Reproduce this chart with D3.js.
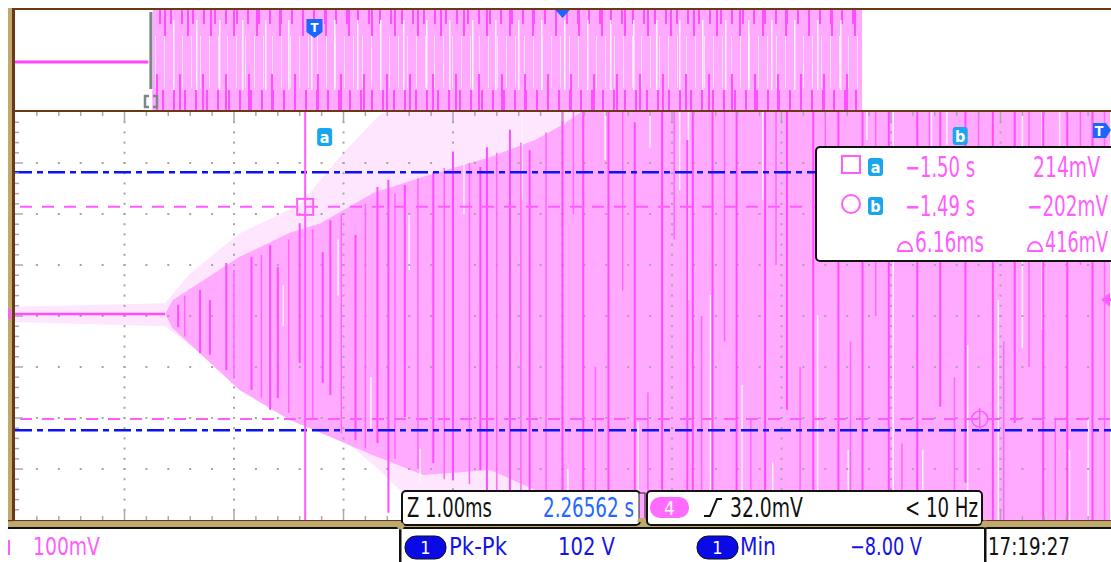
<!DOCTYPE html>
<html>
<head>
<meta charset="utf-8">
<script src="https://cdn.jsdelivr.net/npm/d3@7"></script>
<style>
  html, body { margin: 0; padding: 0; background: #fff; }
  svg { display: block; }
  text { font-family: "DejaVu Sans Condensed", "Liberation Sans Narrow", "DejaVu Sans", sans-serif; }
</style>
</head>
<body>
<svg id="scope" width="1111" height="562"></svg>
<script>
// horizontal: 1.00 ms/div (0..10 ms), vertical: 100 mV/div (-400..400 mV)

// outer (persistence) envelope of channel 4
const lightT  = [0, 1.37, 1.6, 2.06, 2.6, 3.0, 3.33, 3.6, 3.97, 10];
const lightHi = [18, 25, 84, 163, 218, 320, 394, 420, 420, 420];
const lightLo = [-12, -20, -57, -106, -184, -243, -302, -360, -420, -420];

// inner envelope
const midT  = [1.37, 1.44, 2.05, 2.51, 2.79, 3.27, 3.73, 4.34, 4.75, 5.0, 5.3, 10];
const midHi = [4, 31, 116, 163, 182, 241, 273, 312, 345, 375, 420, 420];
const midLo = [4, -24, -145, -204, -229, -273, -312, -302, -341, -361, -420, -420];

// flat trace before the burst
const flatT = [0, 1.37];
const flatV = [4, 4];

// bright vertical strokes [time ms, top mV, bottom mV]
const spikes = [
  [1.49, 22, -22], [1.69, 51, -73], [1.78, 31, -76], [1.93, 104, -106],
  [2.16, 116, -145], [2.33, 139, -184], [2.40, 96, -161], [2.60, 182, -92],
  [2.81, 125, -131], [2.88, 188, -155], [3.11, 159, -243], [3.31, 253, -249],
  [3.41, 267, -386], [3.56, 257, -198], [3.82, 282, -288], [4.00, 322, -322],
  [4.25, 292, -302], [4.31, 331, -420], [4.52, 365, -420], [4.70, 325, -420],
  [5.00, 420, -420], [5.19, 420, -420], [5.42, 420, -420], [5.66, 380, -420],
  [5.91, 420, -420], [6.14, 345, -420], [6.19, 420, -420], [6.37, 420, -420],
  [6.59, 420, -420], [6.85, 420, -420], [7.05, 420, -184], [7.29, 420, -420],
  [7.52, 420, -420], [7.74, 420, -420], [7.98, 420, -420], [8.24, 420, -420],
  [8.45, 420, -178], [8.68, 420, -327], [8.93, 420, -420], [9.13, 420, -210],
  [9.39, 420, -420], [9.61, 420, -420], [9.84, 420, -420]
];

// shorter strokes between the main ones [time ms, top mV, bottom mV]
const partials = [
  [1.55, 40, -40], [2.00, 90, -120], [2.25, 120, -160], [2.50, 150, -190],
  [2.72, 170, -200], [2.98, 200, -230], [3.20, 220, -260], [3.47, 240, -280],
  [3.68, 270, -300], [3.92, 290, -320], [4.15, 300, -330], [4.40, 320, -360],
  [4.62, 340, -380], [4.85, 360, -400], [5.10, 420, 200], [5.30, -100, -420],
  [5.55, 420, 50], [5.78, -150, -420], [6.02, 420, 150], [6.27, 0, -420],
  [6.48, 420, -50], [6.72, -200, -420], [6.95, 420, 100], [7.17, -100, -420],
  [7.40, 420, 250], [7.63, -50, -420], [7.86, 420, 0], [8.10, -250, -420],
  [8.35, 420, 150], [8.58, -120, -420], [8.80, 420, 200], [9.03, -50, -420],
  [9.26, 420, -100], [9.50, -200, -420], [9.73, 420, 100], [9.95, 420, -420]
];

// pale gaps inside the burst [time ms, top mV, bottom mV]
const gaps = [
  [4.63, 420, 227], [5.39, 420, 306], [6.07, 420, 247], [6.83, 420, 227],
  [5.69, -208, -420], [6.15, 420, 31], [6.35, 41, -420], [6.64, -135, -420],
  [6.92, -286, -420], [7.33, 2, -420], [7.61, -263, -420], [8.02, 420, -420],
  [8.29, -263, -420], [8.70, -57, -420], [8.98, 31, -420], [9.20, 420, -63],
  [9.38, 420, -27], [9.63, -263, -420], [9.80, -204, -420], [7.78, 420, 345],
  [8.37, 420, 325], [8.51, 420, 335], [9.54, 420, 325], [3.70, -260, -330],
  [4.10, 300, 200], [5.05, -300, -420], [5.80, 420, 330], [2.45, 60, -20],
  [2.95, 150, 40], [3.25, -120, -220], [3.60, 200, 90]
];

// cursors and levels
const cursorT = [2.65, 8.81];
const cursorV = [214, -202];
const blueLevels = [282, -224];
const trigLevel = 32;
const groundLevel = 4;

// overview strip, fraction of record
const ovFlatEnd = 0.122;
const ovBand = [0.126, 0.775];
const ovTrig = 0.274;
const ovCenter = 0.501;

// readouts
const measRows = [
  { badge: 'a', time: '\u22121.50 s', volt: '214mV' },
  { badge: 'b', time: '\u22121.49 s', volt: '\u2212202mV' }
];
const deltaTime = '6.16ms';
const deltaVolt = '416mV';

const pink = '#ff5cff';
const brown = '#6a3a18';
const tan = '#bfa96c';

const svg = d3.select('#scope');
const plot = { left: 15, right: 1110, top: 112, bottom: 520 };

const x = d3.scaleLinear().domain([0, 10]).range([plot.left, plot.right]);
const y = d3.scaleLinear().domain([-400, 400]).range([plot.bottom, plot.top]);

const defs = svg.append('defs');
defs.append('clipPath').attr('id', 'plotClip')
  .append('rect')
  .attr('x', plot.left).attr('y', plot.top)
  .attr('width', 1111 - plot.left).attr('height', plot.bottom - plot.top);

// overview textures
const patA = defs.append('pattern').attr('id', 'ovA')
  .attr('patternUnits', 'userSpaceOnUse').attr('width', 9).attr('height', 100).attr('y', 10);
patA.append('rect').attr('x', 2).attr('y', 26).attr('width', 1).attr('height', 52).attr('fill', '#ffe0ff');
const patB = defs.append('pattern').attr('id', 'ovB')
  .attr('patternUnits', 'userSpaceOnUse').attr('width', 11).attr('height', 100).attr('y', 10);
patB.append('rect').attr('x', 5).attr('y', 0).attr('width', 2).attr('height', 14).attr('fill', '#ff50ff');
patB.append('rect').attr('x', 8).attr('y', 80).attr('width', 2).attr('height', 20).attr('fill', '#ff50ff');
const patC = defs.append('pattern').attr('id', 'ovC')
  .attr('patternUnits', 'userSpaceOnUse').attr('width', 23).attr('height', 100).attr('y', 10);
patC.append('rect').attr('x', 3).attr('y', 0).attr('width', 2).attr('height', 26).attr('fill', '#ff50ff');
patC.append('rect').attr('x', 12).attr('y', 10).attr('width', 1.5).attr('height', 70).attr('fill', '#fff4ff');
patC.append('rect').attr('x', 18).attr('y', 64).attr('width', 2).attr('height', 36).attr('fill', '#ff50ff');

// ---------- main trace ----------
const g = svg.append('g').attr('clip-path', 'url(#plotClip)');

const area = d3.area().x(d => x(d.t)).y0(d => y(d.lo)).y1(d => y(d.hi));
const lightData = lightT.map((t, i) => ({ t, hi: lightHi[i], lo: lightLo[i] }));
const midData = midT.map((t, i) => ({ t, hi: midHi[i], lo: midLo[i] }));

g.append('path').datum(lightData).attr('d', area).attr('fill', '#ffe6ff');
g.append('path').datum(midData).attr('d', area).attr('fill', '#ffaaff');

g.selectAll('.gap')
  .data(gaps)
  .enter().append('rect')
  .attr('class', 'gap')
  .attr('x', d => x(d[0]) - 0.75)
  .attr('y', d => y(d[1]))
  .attr('width', 1.5)
  .attr('height', d => y(d[2]) - y(d[1]))
  .attr('fill', '#fff0ff');

// graticule dots
const dotG = g.append('g').attr('fill', '#a6a6a6');
d3.range(1, 10).forEach(k => {
  d3.range(-380, 400, 20).forEach(v => {
    dotG.append('rect').attr('x', x(k) - 1).attr('y', y(v) - 1).attr('width', 2).attr('height', 2);
  });
});
d3.range(-300, 400, 100).forEach(v => {
  d3.range(1, 50).forEach(m => {
    dotG.append('rect').attr('x', x(m / 5) - 1).attr('y', y(v) - 1).attr('width', 2).attr('height', 2);
  });
});

g.selectAll('.partial')
  .data(partials)
  .enter().append('line')
  .attr('class', 'partial')
  .attr('x1', d => x(d[0])).attr('x2', d => x(d[0]))
  .attr('y1', d => y(d[1])).attr('y2', d => y(d[2]))
  .attr('stroke', '#ff66ff')
  .attr('stroke-width', 1.5);

g.selectAll('.spike')
  .data(spikes)
  .enter().append('line')
  .attr('class', 'spike')
  .attr('x1', d => x(d[0])).attr('x2', d => x(d[0]))
  .attr('y1', d => y(d[1])).attr('y2', d => y(d[2]))
  .attr('stroke', '#ff4cff')
  .attr('stroke-width', 2);

g.append('path')
  .datum(flatT.map((t, i) => ({ t, v: flatV[i] })))
  .attr('d', d3.line().x(d => x(d.t)).y(d => y(d.v)))
  .attr('stroke', '#ff4cff').attr('stroke-width', 2.5).attr('fill', 'none');

// edge ticks
const tickG = svg.append('g').attr('stroke', '#a8a8b0').attr('stroke-width', 1.5);
d3.range(1, 50).forEach(m => {
  const len = m % 5 === 0 ? 10 : 4;
  tickG.append('line').attr('x1', x(m / 5)).attr('x2', x(m / 5)).attr('y1', plot.top).attr('y2', plot.top + len);
  tickG.append('line').attr('x1', x(m / 5)).attr('x2', x(m / 5)).attr('y1', plot.bottom).attr('y2', plot.bottom - len);
});
d3.range(-380, 400, 20).forEach(v => {
  const len = v % 100 === 0 ? 8 : 4;
  tickG.append('line').attr('x1', plot.left).attr('x2', plot.left + len).attr('y1', y(v)).attr('y2', y(v));
});

// level lines
g.selectAll('.blueLevel')
  .data(blueLevels)
  .enter().append('line')
  .attr('x1', plot.left).attr('x2', 1111)
  .attr('y1', d => y(d)).attr('y2', d => y(d))
  .attr('stroke', '#0a14f0').attr('stroke-width', 2.5)
  .attr('stroke-dasharray', '17,5,6,5');

g.selectAll('.pinkLevel')
  .data(cursorV)
  .enter().append('line')
  .attr('x1', plot.left + 5).attr('x2', 1111)
  .attr('y1', d => y(d)).attr('y2', d => y(d))
  .attr('stroke', pink).attr('stroke-width', 2)
  .attr('stroke-dasharray', '12,10');

g.append('line')
  .attr('x1', x(cursorT[0])).attr('x2', x(cursorT[0]))
  .attr('y1', plot.top).attr('y2', plot.bottom)
  .attr('stroke', pink).attr('stroke-width', 2);

// cursor markers
g.append('rect')
  .attr('x', x(cursorT[0]) - 8).attr('y', y(cursorV[0]) - 8)
  .attr('width', 16).attr('height', 16)
  .attr('fill', 'none').attr('stroke', pink).attr('stroke-width', 2);
g.append('circle')
  .attr('cx', x(cursorT[1])).attr('cy', y(cursorV[1])).attr('r', 8)
  .attr('fill', 'none').attr('stroke', pink).attr('stroke-width', 1.5);
g.append('line')
  .attr('x1', x(cursorT[1])).attr('x2', x(cursorT[1]))
  .attr('y1', y(cursorV[1]) - 11).attr('y2', y(cursorV[1]) + 11)
  .attr('stroke', pink).attr('stroke-width', 1.5);

function badge(parent, bx, by, letter) {
  parent.append('rect').attr('x', bx).attr('y', by).attr('width', 15).attr('height', 18)
    .attr('rx', 3).attr('fill', '#1aa6ee');
  parent.append('text').attr('x', bx + 7.5).attr('y', by + 14.5)
    .attr('text-anchor', 'middle').attr('fill', '#fff')
    .attr('font-size', 16).attr('font-weight', 'bold').text(letter);
}
badge(svg, x(cursorT[0]) + 12, 128, 'a');
badge(svg, x(cursorT[1]) - 27, 127, 'b');

// trigger-position marker (off screen to the right)
const tm = svg.append('g');
tm.append('path').attr('d', 'M1093,123 h13 l5,7 l-5,8 h-13 z').attr('fill', '#1a66ff');
tm.append('text').attr('x', 1099).attr('y', 136).attr('text-anchor', 'middle')
  .attr('fill', '#fff').attr('font-size', 14).attr('font-weight', 'bold').text('T');

// trigger level arrow
svg.append('path')
  .attr('d', `M1101,${y(trigLevel)} l9,-7 v14 z`)
  .attr('fill', pink);
svg.append('rect').attr('x', 1106).attr('y', y(trigLevel) - 1.5).attr('width', 5).attr('height', 3).attr('fill', pink);

// ---------- overview strip ----------
const ox = d3.scaleLinear().domain([0, 1]).range([15, 1108]);
const ov = svg.append('g');
ov.append('rect').attr('x', ox(ovBand[0])).attr('y', 10)
  .attr('width', ox(ovBand[1]) - ox(ovBand[0])).attr('height', 100).attr('fill', '#ffaaff');
['ovA', 'ovB', 'ovC'].forEach(id => {
  ov.append('rect').attr('x', ox(ovBand[0])).attr('y', 10)
    .attr('width', ox(ovBand[1]) - ox(ovBand[0])).attr('height', 100).attr('fill', `url(#${id})`);
});
ov.append('line').attr('x1', ox(0)).attr('x2', ox(ovFlatEnd)).attr('y1', 62).attr('y2', 62)
  .attr('stroke', '#ff44ff').attr('stroke-width', 3);
ov.append('rect').attr('x', ox(ovFlatEnd) + 1).attr('y', 12).attr('width', 3).attr('height', 77).attr('fill', '#7b8886');
ov.append('path').attr('d', 'M149,96 h-4 v11 h4 M153,96 h4 v11 h-4')
  .attr('stroke', '#7b8886').attr('stroke-width', 2.5).attr('fill', 'none');
ov.append('path')
  .attr('d', `M${ox(ovTrig) - 8},19 h16 v13 l-8,6 l-8,-6 z`).attr('fill', '#1a66ff');
ov.append('text').attr('x', ox(ovTrig)).attr('y', 32).attr('text-anchor', 'middle')
  .attr('fill', '#fff').attr('font-size', 13).attr('font-weight', 'bold').text('T');
ov.append('path').attr('d', `M${ox(ovCenter) - 8},9 h16 l-8,9 z`).attr('fill', '#1a66ff');

// ---------- frame ----------
svg.append('rect').attr('x', 8).attr('y', 8).attr('width', 5).attr('height', 519).attr('fill', tan);
svg.append('rect').attr('x', 12).attr('y', 8).attr('width', 3).attr('height', 513).attr('fill', brown);
svg.append('rect').attr('x', 12).attr('y', 8).attr('width', 1099).attr('height', 2).attr('fill', brown);
svg.append('rect').attr('x', 12).attr('y', 110).attr('width', 1099).attr('height', 2).attr('fill', brown);
svg.append('rect').attr('x', 8).attr('y', 520).attr('width', 1103).attr('height', 1.5).attr('fill', brown);
svg.append('rect').attr('x', 8).attr('y', 521.5).attr('width', 1103).attr('height', 5.5).attr('fill', tan);
svg.append('rect').attr('x', 8).attr('y', 527).attr('width', 1103).attr('height', 2).attr('fill', '#111');
svg.append('rect').attr('x', 8).attr('y', y(groundLevel) - 5).attr('width', 3).attr('height', 10).attr('fill', pink);

// text helper: scales the string horizontally so it fills the span seen in the reference
function label(parent, s, x0, x1, base, size, color) {
  const t = parent.append('text')
    .attr('x', 0).attr('y', 0)
    .attr('font-size', size).attr('fill', color)
    .text(s);
  const natural = t.node().getComputedTextLength() || (x1 - x0);
  t.attr('transform', `translate(${x0},${base}) scale(${(x1 - x0) / natural},1)`);
  return t;
}

// ---------- cursor readout box ----------
const mb = svg.append('g');
mb.append('rect').attr('x', 816).attr('y', 147).attr('width', 320).attr('height', 114)
  .attr('rx', 4).attr('fill', '#fff').attr('stroke', '#111').attr('stroke-width', 2);
mb.append('rect').attr('x', 842).attr('y', 156).attr('width', 18).attr('height', 17)
  .attr('fill', 'none').attr('stroke', pink).attr('stroke-width', 2);
mb.append('circle').attr('cx', 851).attr('cy', 204).attr('r', 9)
  .attr('fill', 'none').attr('stroke', pink).attr('stroke-width', 2);
measRows.forEach((r, i) => {
  const base = i === 0 ? 177 : 216;
  badge(mb, 868, base - 19, r.badge);
  label(mb, r.time, 905, 975, base, 28, pink);
  if (i === 0) label(mb, r.volt, 1033, 1100, base, 28, pink);
  else label(mb, r.volt, 1027, 1108, base, 28, pink);
});
const dome = (x0) => `M${x0},251 h14 v-2 q-2,-7 -7,-7 q-5,0 -7,7 z`;
mb.append('path').attr('d', dome(898)).attr('fill', 'none').attr('stroke', pink).attr('stroke-width', 1.8);
label(mb, deltaTime, 915, 984, 252, 28, pink);
mb.append('path').attr('d', dome(1028)).attr('fill', 'none').attr('stroke', pink).attr('stroke-width', 1.8);
label(mb, deltaVolt, 1045, 1108, 252, 28, pink);

// ---------- status bar ----------
const sb = svg.append('g');
sb.append('rect').attr('x', 402).attr('y', 491).attr('width', 238).attr('height', 34)
  .attr('rx', 4).attr('fill', '#fff').attr('stroke', '#111').attr('stroke-width', 2);
label(sb, 'Z 1.00ms', 407, 492, 517, 26, '#111');
label(sb, '2.26562 s', 543, 634, 517, 26, '#2466ff');

sb.append('rect').attr('x', 639).attr('y', 493).attr('width', 6).attr('height', 27)
  .attr('fill', '#ffa6ff').attr('stroke', '#222').attr('stroke-width', 1);
sb.append('path').attr('d', 'M637,522 h10 l-2,-4 h-6 z').attr('fill', tan);

sb.append('rect').attr('x', 647).attr('y', 491).attr('width', 335).attr('height', 34)
  .attr('rx', 4).attr('fill', '#fff').attr('stroke', '#111').attr('stroke-width', 2);
sb.append('rect').attr('x', 650).attr('y', 497).attr('width', 39).attr('height', 21)
  .attr('rx', 10).attr('fill', '#ff6aff');
sb.append('text').attr('x', 669.5).attr('y', 515).attr('text-anchor', 'middle')
  .attr('font-size', 19).attr('fill', '#fff').text('4');
sb.append('path').attr('d', 'M704,516 h6 l7,-17 h5')
  .attr('stroke', '#111').attr('stroke-width', 2).attr('fill', 'none');
label(sb, '32.0mV', 730, 803, 517, 26, '#111');
label(sb, '< 10 Hz', 905, 978, 517, 26, '#111');

sb.append('rect').attr('x', 399).attr('y', 527).attr('width', 2.5).attr('height', 35).attr('fill', '#111');
sb.append('rect').attr('x', 984).attr('y', 527).attr('width', 2.5).attr('height', 35).attr('fill', '#111');
sb.append('circle').attr('cx', 400.5).attr('cy', 526).attr('r', 3.5).attr('fill', tan);
sb.append('circle').attr('cx', 985).attr('cy', 524).attr('r', 3.5).attr('fill', tan);

// bottom row: baseline kept high enough that the glyph box stays inside the page
const rowBase = 555;
sb.append('rect').attr('x', 8).attr('y', 540).attr('width', 2).attr('height', 15).attr('fill', pink);
label(sb, '100mV', 33, 100, rowBase, 24, pink);

function pill(parent, px, text) {
  parent.append('rect').attr('x', px).attr('y', 536).attr('width', 41).attr('height', 23)
    .attr('rx', 11).attr('fill', '#0a0ae6').attr('stroke', '#111').attr('stroke-width', 1);
  parent.append('text').attr('x', px + 20.5).attr('y', 554).attr('text-anchor', 'middle')
    .attr('font-size', 18).attr('fill', '#fff').text(text);
}
pill(sb, 405, '1');
label(sb, 'Pk-Pk', 449, 507, rowBase, 24, '#1414e6');
label(sb, '102 V', 558, 615, rowBase, 24, '#1414e6');
pill(sb, 697, '1');
label(sb, 'Min', 740, 776, rowBase, 24, '#1414e6');
label(sb, '\u22128.00 V', 850, 922, rowBase, 24, '#1414e6');
label(sb, '17:19:27', 988, 1070, rowBase, 24, '#111');
</script>
</body>
</html>
